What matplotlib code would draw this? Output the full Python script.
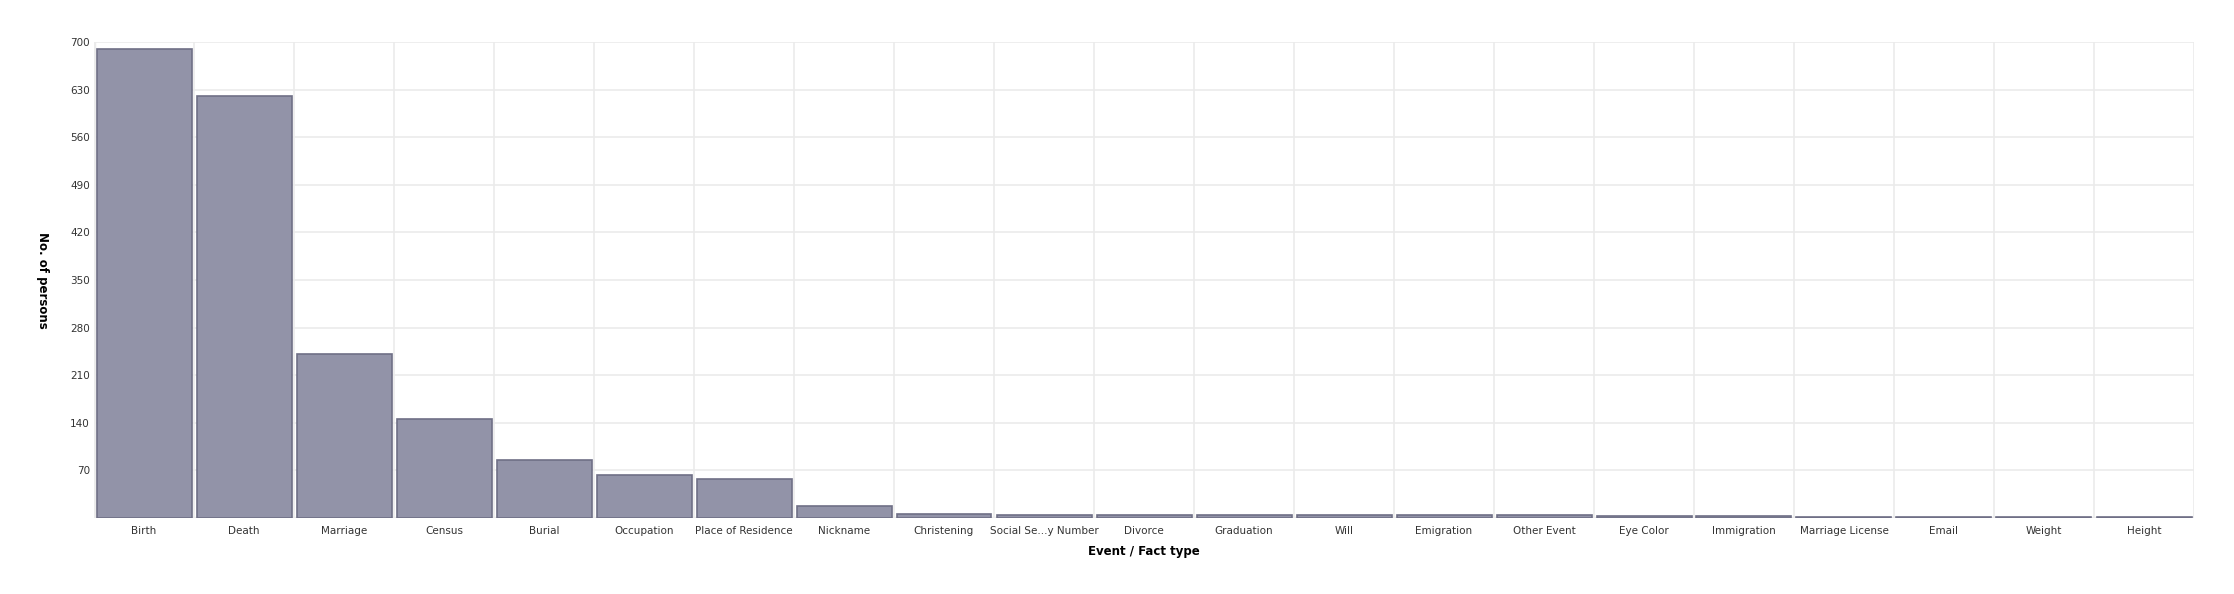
import numpy as np
import matplotlib
matplotlib.use("Agg")
import matplotlib.pyplot as plt

# event / fact types, sorted by count
categories = ["Birth", "Death", "Marriage", "Census", "Burial", "Occupation",
              "Place of Residence", "Nickname", "Christening", "Social Se...y Number",
              "Divorce", "Graduation", "Will", "Emigration", "Other Event",
              "Eye Color", "Immigration", "Marriage License", "Email", "Weight", "Height"]
counts = [690, 621, 241, 145, 86, 63, 58, 18, 6, 5, 4, 4, 4, 4, 4, 3, 3, 1, 1, 1, 1]
y_ticks = [70, 140, 210, 280, 350, 420, 490, 560, 630, 700]

fill = "#9293a8"
edge = "#6f6f86"
grid = "#ebebeb"

fig = plt.figure(figsize=(22.34, 5.94), dpi=100)
ax = fig.add_axes([94 / 2234, 1 - 518 / 594, 2100 / 2234, 476 / 594])

x = np.arange(len(categories))
ax.bar(x + 0.5, counts, width=0.95, color=fill, edgecolor=edge, linewidth=1.2, zorder=3)

ax.set_xlim(0, len(categories))
ax.set_ylim(0, 700)

# grid: vertical lines on category boundaries, horizontal on ticks
for b in range(len(categories) + 1):
    ax.axvline(b, color=grid, linewidth=1.2, zorder=1)
for t in y_ticks:
    ax.axhline(t, color=grid, linewidth=1.2, zorder=1)
ax.axhline(0, color=grid, linewidth=2.5, zorder=1)
ax.axvline(0, color=grid, linewidth=2.5, zorder=1)

ax.set_xticks(x + 0.5)
ax.set_xticklabels(categories, fontsize=7.5, color="#333333")
ax.set_yticks(y_ticks)
ax.set_yticklabels([str(t) for t in y_ticks], fontsize=7.5, color="#333333")
ax.tick_params(axis="both", length=0, pad=6)
ax.tick_params(axis="y", pad=3)

for s in ax.spines.values():
    s.set_visible(False)

ax.set_xlabel("Event / Fact type", fontsize=8.5, fontweight="bold", labelpad=6)
fig.text(42 / 2234, 1 - 280 / 594, "No. of persons", fontsize=8.5, fontweight="bold",
         rotation=270, ha="center", va="center")

fig.savefig("out.png", dpi=100)
